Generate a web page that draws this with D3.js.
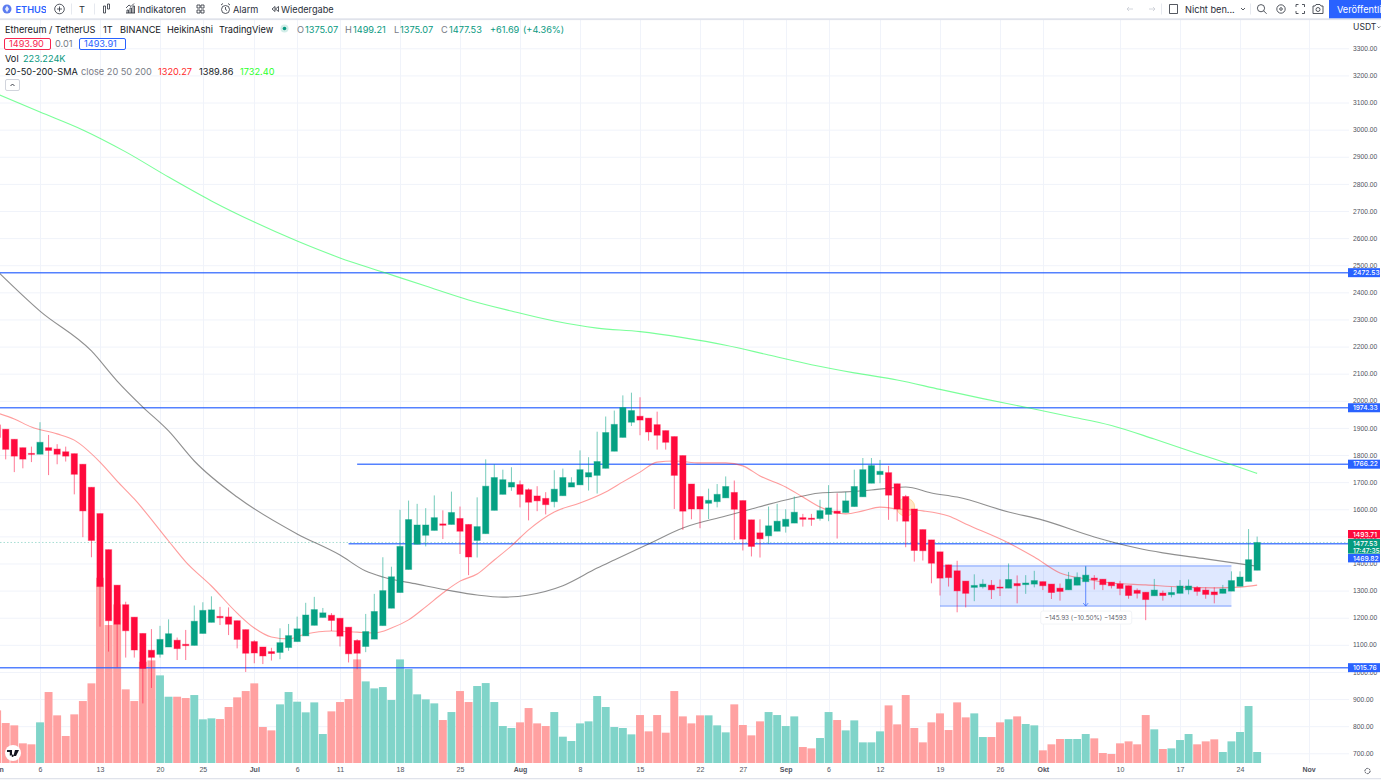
<!DOCTYPE html>
<html><head><meta charset="utf-8">
<script src="https://cdn.jsdelivr.net/npm/d3@7/dist/d3.min.js"></script>
<style>
html,body{margin:0;padding:0;background:#fff;overflow:hidden}
svg{display:block;font-family:Inter,"Noto Sans",sans-serif}
.yax text{font-size:6.7px;font-weight:500;fill:#50535e}
.xax text{font-size:7px;font-weight:500;fill:#50535e}
</style></head><body><svg id="c" width="1381" height="781"></svg>
<script>
const startDate = "2022-06-01";
const opens = [
1911,1895,1858,1827,1806,1803,1827,1822,1812,1805,1766,1681,1584,1451,1320,1248,1202,1142,1080,1065,1092,1117,1102,1098,1142,1183,1205,1203,1189,1156,
1112,1092,1075,1072,1090,1112,1133,1172,1201,1209,1198,1165,1116,1094,1121,1171,1235,1293,1378,1471,1504,1522,1546,1544,1566,1544,1485,1510,1596,1655,1682,
1691,1672,1649,1640,1628,1650,1682,1690,1719,1725,1751,1814,1865,1921,1943,1936,1912,1890,1868,1798,1693,1647,1622,1628,1642,1662,1632,1561,1513,1502,1519,
1537,1549,1569,1567,1566,1581,1593,1588,1610,1646,1696,1728,1735,1694,1647,1601,1525,1487,1443,1395,1373,1335,1312,1314,1320,1313,1309,1326,1322,1324,
1333,1324,1309,1303,1320,1333,1346,1342,1331,1325,1318,1301,1294,1281,1291,1285,1290,1303,1311,1302,1295,1290,1298,1316,1334,1375.07];
const highs = [
1920,1895,1858,1827,1831,1921,1874,1840,1831,1805,1766,1681,1584,1451,1320,1259,1202,1142,1158,1170,1194,1127,1155,1245,1257,1279,1240,1238,1189,1156,
1117,1092,1089,1161,1177,1204,1255,1277,1236,1217,1198,1165,1121,1214,1288,1423,1388,1598,1632,1620,1604,1651,1596,1665,1610,1544,1644,1784,1766,1746,1755,
1706,1677,1685,1663,1744,1750,1718,1817,1792,1886,1942,1964,2020,2030,2013,1936,1960,1890,1868,1798,1693,1647,1676,1693,1721,1706,1632,1561,1563,1610,1620,
1600,1647,1583,1583,1635,1689,1659,1664,1746,1789,1789,1782,1760,1694,1653,1601,1525,1487,1443,1395,1410,1335,1360,1342,1339,1341,1400,1356,1357,1373,
1333,1324,1326,1369,1367,1388,1357,1342,1331,1336,1318,1308,1294,1343,1300,1314,1339,1341,1317,1312,1312,1321,1371,1371,1527,1499.21];
const lows = [
1840,1784,1737,1751,1774,1803,1726,1766,1776,1655,1497,1423,1167,1075,1017,1053,1053,884,941,1053,1092,1044,1044,1098,1142,1183,1173,1136,1087,1000,
1032,1029,1042,1047,1078,1112,1133,1172,1201,1151,1094,1035,1010,1073,1121,1171,1235,1293,1378,1471,1463,1522,1490,1544,1435,1357,1422,1510,1596,1655,1668,
1607,1559,1593,1581,1607,1650,1682,1690,1669,1658,1751,1814,1865,1907,1873,1853,1820,1820,1601,1524,1563,1530,1564,1607,1642,1487,1448,1426,1422,1472,1519,
1514,1549,1536,1539,1558,1556,1492,1588,1610,1646,1696,1696,1561,1555,1460,1407,1411,1327,1282,1315,1220,1238,1261,1308,1269,1280,1309,1253,1288,1312,
1302,1269,1263,1303,1320,1333,1304,1302,1308,1283,1270,1271,1191,1281,1263,1275,1290,1286,1281,1270,1253,1290,1298,1316,1334,1375.07];
const closes = [
1865,1821,1796,1785,1803,1847,1817,1803,1796,1729,1594,1485,1315,1189,1176,1152,1081,1013,1054,1120,1141,1086,1097,1187,1227,1229,1200,1176,1120,1069,
1070,1059,1068,1108,1134,1159,1210,1230,1218,1190,1132,1067,1069,1149,1223,1300,1351,1463,1562,1542,1542,1569,1541,1588,1519,1424,1536,1685,1717,1709,1699,
1655,1626,1631,1617,1674,1717,1698,1746,1735,1776,1883,1913,1975,1964,1929,1885,1873,1847,1725,1593,1601,1601,1633,1655,1684,1600,1490,1463,1491,1539,1556,
1563,1589,1563,1563,1595,1605,1585,1631,1684,1746,1761,1740,1652,1601,1556,1448,1447,1401,1346,1348,1299,1290,1319,1324,1303,1310,1341,1318,1328,1337,
1318,1293,1297,1342,1349,1357,1340,1322,1318,1308,1282,1290,1267,1302,1282,1293,1317,1317,1297,1286,1285,1306,1337,1350,1414,1477.53];
const volumesK = [
1068,811,764,399,379,825,1440,967,548,987,1257,1616,3759,2799,3218,1494,1257,2055,2082,1778,1345,1345,1318,1379,886,906,892,1136,1332,1460,
1616,730,662,1190,1440,1244,1028,1230,588,1048,1237,1298,2102,1656,1514,1541,1278,2102,1906,1393,1291,1210,872,1034,1460,1237,1562,1622,1237,750,710,
825,1115,804,750,1034,534,446,804,845,1359,1136,730,710,581,973,642,973,615,1460,946,804,967,967,764,622,1190,771,561,845,1034,973,
750,946,324,297,507,1034,872,662,865,419,419,642,1169,784,1379,710,419,825,1007,669,1230,926,1007,527,527,825,886,946,791,764,
257,379,487,487,487,588,500,203,183,399,439,379,973,683,284,297,466,588,379,439,480,223,439,629,1156,223.224];

const sma20Days = [0,2,4,7,9,12,14,16,20,22,25,28,30,32,34,36,39,42,44,46,48,50,52,54,56,58,60,62,65,68,71,73,75,77,79,82,85,87,89,92,94,96,99,101,103,105,108,111,113,118,121,124,127,130,134,138,142,145,147];
const sma20 = [1955,1933,1903,1878,1855,1774,1704,1638,1483,1406,1317,1217,1162,1129,1122,1140,1151,1147,1144,1162,1192,1240,1291,1335,1361,1413,1465,1524,1590,1623,1664,1701,1737,1774,1778,1771,1771,1760,1723,1682,1645,1608,1583,1594,1608,1601,1594,1575,1546,1476,1424,1365,1343,1328,1321,1313,1310,1313,1320.27];
const sma50Days = [0,5,11,14,17,20,23,28,35,40,43,45,49,53,56,59,62,66,70,72,76,80,85,88,92,96,99,102,104,106,109,112,118,122,128,133,136,141,147];
const sma50 = [2479,2331,2184,2073,1977,1889,1778,1645,1509,1431,1372,1350,1324,1299,1284,1276,1284,1318,1383,1413,1472,1531,1575,1601,1634,1660,1664,1671,1678,1682,1660,1645,1590,1560,1498,1457,1439,1417,1389.86];
const sma200Days = [0,5,10,15,20,25,30,35,40,45,50,55,60,65,70,75,80,85,90,95,100,105,110,115,120,125,130,135,140,145,147];
const sma200 = [3132,3065,2999,2918,2825,2737,2659,2589,2527,2475,2423,2372,2331,2294,2268,2255,2233,2205,2169,2133,2103,2077,2042,2008,1976,1943,1909,1859,1806,1754,1732.4];

const priceTicks = [700,800,900,1000,1100,1200,1300,1400,1500,1600,1700,1800,1900,2000,2100,2200,2300,2400,2500,2600,2700,2800,2900,3000,3100,3200,3300];
const timeTickDates = ["2022-06-01","2022-06-06","2022-06-13","2022-06-20","2022-06-25","2022-07-01","2022-07-06","2022-07-11","2022-07-18","2022-07-25","2022-08-01","2022-08-08","2022-08-15","2022-08-22","2022-08-27","2022-09-01","2022-09-06","2022-09-12","2022-09-19","2022-09-26","2022-10-01","2022-10-10","2022-10-17","2022-10-24","2022-11-01"];
const monthNames = {5:"Jun",6:"Jul",7:"Aug",8:"Sep",9:"Okt",10:"Nov"};
const lineLevels = [
 {p:2472.53, from:"2022-05-01"},
 {p:1974.33, from:"2022-05-01"},
 {p:1766.22, from:"2022-07-13"},
 {p:1473,    from:"2022-07-12"},
 {p:1015.76, from:"2022-05-01"}];
const boxTop = 1391, boxBottom = 1243, boxFrom = "2022-09-19", boxTo = "2022-10-23", arrowDate = "2022-10-06";
const lastPrice = 1477.53;

const W = 1381, H = 781, axisX = 1349, plotTop = 20, plotBottom = 763;
const parse = d3.utcParse("%Y-%m-%d");
const svg = d3.select("#c");
const x = d3.scaleUtc().domain([parse("2022-06-06"),parse("2022-10-24")]).range([40,1240]);
const y = d3.scaleLinear().domain([700,3300]).range([753.3,48.3]);
const vol = d3.scaleLinear().domain([0,3760]).range([plotBottom,plotBottom-185.3]);
const t0 = parse(startDate);
const dayOf = i => d3.utcDay.offset(t0,i);
const up = "#05a183", dn = "#ff0a3c", blue = "#2962ff";

svg.append("defs").append("clipPath").attr("id","plot").append("rect")
  .attr("x",0).attr("y",plotTop).attr("width",axisX).attr("height",plotBottom-plotTop);
svg.append("rect").attr("width",W).attr("height",H).attr("fill","#fff");

const plot = svg.append("g").attr("clip-path","url(#plot)");
// grid
plot.append("g").selectAll("line").data(priceTicks).join("line")
  .attr("x1",0).attr("x2",axisX).attr("y1",d=>y(d)+.5).attr("y2",d=>y(d)+.5).attr("stroke","#f0f3fa");
plot.append("g").selectAll("line").data(timeTickDates).join("line")
  .attr("x1",d=>Math.round(x(parse(d)))+.5).attr("x2",d=>Math.round(x(parse(d)))+.5).attr("y1",plotTop).attr("y2",plotBottom).attr("stroke","#f0f3fa");

// volume
plot.append("g").selectAll("rect").data(volumesK).join("rect")
  .attr("x",(d,i)=>x(dayOf(i))-3.95).attr("width",7.9)
  .attr("y",d=>vol(d)).attr("height",d=>plotBottom-vol(d))
  .attr("fill",(d,i)=>closes[i]>=opens[i]?"#80d4c9":"#ffa1a1");

// box drawing
const bx0 = x(parse(boxFrom)), bx1 = x(parse(boxTo));
plot.append("rect").attr("x",bx0).attr("width",bx1-bx0).attr("y",y(boxTop)).attr("height",y(boxBottom)-y(boxTop)).attr("fill",blue).attr("fill-opacity",.15);
plot.selectAll("line.bx").data([boxTop,boxBottom]).join("line").attr("class","bx")
  .attr("x1",bx0).attr("x2",bx1).attr("y1",d=>y(d)).attr("y2",d=>y(d)).attr("stroke",blue).attr("stroke-opacity",.6).attr("stroke-width",1);
const ax = x(parse(arrowDate));
plot.append("line").attr("x1",ax).attr("x2",ax).attr("y1",y(boxTop)).attr("y2",y(boxBottom)).attr("stroke",blue).attr("stroke-opacity",.7);
plot.append("path").attr("d",`M${ax-2.5},${y(boxBottom)-3}L${ax},${y(boxBottom)}L${ax+2.5},${y(boxBottom)-3}`).attr("fill","none").attr("stroke",blue).attr("stroke-opacity",.7);

// dashed last price
plot.append("line").attr("x1",0).attr("x2",axisX).attr("y1",y(lastPrice)).attr("y2",y(lastPrice)).attr("stroke",up).attr("stroke-opacity",.35).attr("stroke-dasharray","1.5 2");

// level lines
plot.append("g").selectAll("line").data(lineLevels).join("line")
  .attr("x1",d=>x(parse(d.from))).attr("x2",axisX).attr("y1",d=>y(d.p)).attr("y2",d=>y(d.p))
  .attr("stroke",blue).attr("stroke-width",1.5).attr("stroke-opacity",.8);

// circle highlight
plot.append("circle").attr("cx",x(parse("2022-09-15"))).attr("cy",y(1608)).attr("r",9)
  .attr("fill","#ff9800").attr("fill-opacity",.22).attr("stroke","#ff9800").attr("stroke-opacity",.3);

// SMAs
function drawLine(days,vals,col,op){
  const l = d3.line().x((d,i)=>x(dayOf(days[i]))).y(d=>y(d)).curve(d3.curveMonotoneX);
  plot.append("path").attr("d",l(vals)).attr("fill","none").attr("stroke",col).attr("stroke-opacity",op).attr("stroke-width",1.1);
}
drawLine(sma200Days,sma200,"#22ff55",.6);
drawLine(sma50Days,sma50,"#333",.55);
drawLine(sma20Days,sma20,"#ff3b3b",.5);

// candles
const cg = plot.append("g");
cg.selectAll("line").data(opens).join("line")
  .attr("x1",(d,i)=>x(dayOf(i))).attr("x2",(d,i)=>x(dayOf(i)))
  .attr("y1",(d,i)=>y(highs[i])).attr("y2",(d,i)=>y(lows[i]))
  .attr("stroke",(d,i)=>closes[i]>=opens[i]?up:dn).attr("stroke-opacity",.55).attr("stroke-width",1);
cg.selectAll("rect").data(opens).join("rect")
  .attr("x",(d,i)=>x(dayOf(i))-3.1).attr("width",6.2)
  .attr("y",(d,i)=>y(Math.max(d,closes[i])))
  .attr("height",(d,i)=>Math.max(1,Math.abs(y(d)-y(closes[i]))))
  .attr("fill",(d,i)=>closes[i]>=d?up:dn)
  .attr("stroke",(d,i)=>closes[i]>=d?up:dn).attr("stroke-opacity",.4).attr("stroke-width",1);

// measurement label
const mx = x(parse("2022-10-06"));
svg.append("rect").attr("x",mx-45).attr("y",y(1243)+5).attr("width",91).attr("height",13).attr("rx",2).attr("fill","#fff").attr("stroke","#eef0f4").attr("stroke-width",.8);
svg.append("text").attr("x",mx).attr("y",y(1243)+13.8).attr("text-anchor","middle").attr("font-size",6.4).attr("fill","#5d606b").text("\u2212145.93 (\u221210.50%) \u221214593");

// axes
const yAxis = d3.axisRight(y).tickValues(priceTicks).tickSize(0).tickPadding(4).tickFormat(d3.format(".2f"));
svg.append("g").attr("class","yax").attr("transform",`translate(${axisX},0)`).call(yAxis).call(g=>g.select(".domain").remove());
const xAxis = d3.axisBottom(x).tickValues(timeTickDates.map(parse)).tickSize(0).tickPadding(4)
  .tickFormat(d=>d.getUTCDate()===1?monthNames[d.getUTCMonth()]:String(d.getUTCDate()));
svg.append("g").attr("class","xax").attr("transform",`translate(0,${plotBottom})`).call(xAxis)
  .call(g=>g.select(".domain").remove())
  .call(g=>g.selectAll("text").style("font-weight",d=>d.getUTCDate()===1?700:500));

// tags
function tag(py,h,col,lines){
  svg.append("rect").attr("x",axisX-1).attr("y",py).attr("width",32).attr("height",h).attr("fill",col);
  lines.forEach((t,i)=>svg.append("text").attr("x",1353).attr("y",py+6.6+i*7).attr("font-size",6.7).attr("font-weight",500).attr("fill","#fff").text(t));
}
tag(y(2472.53)-4.5,9,blue,["2472.53"]);
tag(y(1974.33)-4.5,9,blue,["1974.33"]);
tag(y(1766.22)-4.5,9,blue,["1766.22"]);
tag(530,8.4,dn,["1493.71"]);
tag(539,14.6,"#059b7f",["1477.53","17:47:35"]);
tag(554,8.4,blue,["1469.82"]);
tag(y(1015.76)-4.5,9,blue,["1015.76"]);

// bottom / top chrome
svg.append("rect").attr("x",0).attr("y",778).attr("width",W).attr("height",1.3).attr("fill","#e0e3eb");
svg.append("rect").attr("x",0).attr("y",0).attr("width",W).attr("height",18.3).attr("fill","#fff");
svg.append("rect").attr("x",0).attr("y",18.3).attr("width",W).attr("height",1.8).attr("fill","#e0e3eb");

function T(xp,yp,s,o={}){
  return svg.append("text").attr("x",xp).attr("y",yp).attr("font-size",o.size||9.2).attr("font-weight",o.w||400)
    .attr("fill",o.c||"#131722").attr("text-anchor",o.a||"start").text(s);
}
// TV logo
svg.append("circle").attr("cx",13).attr("cy",753).attr("r",8).attr("fill","#fff");
svg.append("path").attr("d","M7,750h5v5.5h-2.2v-3.5H7zM12.6,754.5a1.2,1.2 0 1 0 0.01,0zM15,750h4l-3,6h-2.6z").attr("fill","#131722");
// gear
svg.append("circle").attr("cx",1367.5).attr("cy",771).attr("r",2.6).attr("fill","none").attr("stroke","#50535e").attr("stroke-width",1).attr("stroke-dasharray","2 .6");

// legend
const g1="#787b86", teal="#089981";
const r1=32.6;
T(5,r1,"Ethereum / TetherUS");T(103,r1,"1T");T(120,r1,"BINANCE");T(167,r1,"HeikinAshi");T(219,r1,"TradingView");
svg.append("circle").attr("cx",284.5).attr("cy",28.5).attr("r",4).attr("fill",teal).attr("fill-opacity",.18);
svg.append("circle").attr("cx",284.5).attr("cy",28.5).attr("r",1.8).attr("fill",teal);
T(297,r1,"O",{c:g1});T(305,r1,"1375.07",{c:teal});T(345,r1,"H",{c:g1});T(353,r1,"1499.21",{c:teal});
T(394,r1,"L",{c:g1});T(400,r1,"1375.07",{c:teal});T(441,r1,"C",{c:g1});T(449,r1,"1477.53",{c:teal});
T(490,r1,"+61.69",{c:teal});T(523,r1,"(+4.36%)",{c:teal});
svg.append("rect").attr("x",4.5).attr("y",38.5).attr("width",46).attr("height",11).attr("rx",1.5).attr("fill","#fff").attr("stroke","#f7264f");
T(9,47.4,"1493.90",{c:"#f7264f"});T(55,47.4,"0.01",{c:g1});
svg.append("rect").attr("x",79.5).attr("y",38.5).attr("width",46).attr("height",11).attr("rx",1.5).attr("fill","#fff").attr("stroke",blue);
T(84,47.4,"1493.91",{c:blue});
T(5,61.5,"Vol");T(23,61.5,"223.224K",{c:teal});
T(5,74.5,"20-50-200-SMA");T(81,74.5,"close 20 50 200",{c:g1});T(158,74.5,"1320.27",{c:"#ff2a2a"});T(199,74.5,"1389.86");T(240,74.5,"1732.40",{c:"#2bff2b"});
svg.append("rect").attr("x",5.5).attr("y",79.5).attr("width",14).attr("height",11).attr("rx",1.5).attr("fill","#fff").attr("stroke","#d1d4dc");
svg.append("path").attr("d","M10.5,86l2-2l2,2").attr("fill","none").attr("stroke","#131722").attr("stroke-width",.8);

// USDT
T(1353,30,"USDT",{size:8.6,c:"#2a2e39"});
svg.append("path").attr("d","M1377.5,26.5l1.3,1.3l1.3,-1.3").attr("fill","none").attr("stroke","#2a2e39").attr("stroke-width",.7);

// toolbar
const ic="#2a2e39";
function P(d,c=ic){svg.append("path").attr("d",d).attr("fill","none").attr("stroke",c).attr("stroke-width",.8);}
function C(cx,cy,r,c=ic){svg.append("circle").attr("cx",cx).attr("cy",cy).attr("r",r).attr("fill","none").attr("stroke",c).attr("stroke-width",.8);}
svg.append("circle").attr("cx",7).attr("cy",9).attr("r",4.5).attr("fill","#5b7cf0");
svg.append("path").attr("d","M7,5.7L9,9L7,12.3L5,9z").attr("fill","#fff").attr("fill-opacity",.85);
svg.append("clipPath").attr("id","sym").append("rect").attr("x",0).attr("y",0).attr("width",46).attr("height",18);
svg.append("g").attr("clip-path","url(#sym)").append("text").attr("x",15.5).attr("y",12.8).attr("font-size",9.2).attr("font-weight",600).attr("fill",blue).text("ETHUSDT");
C(59.5,9,4.8);P("M57,9h5M59.5,6.5v5");
P("M71.5,3.5v11","#e0e3eb");T(82,12.8,"T",{size:9.2,w:400,c:ic,a:"middle"});P("M94.5,3.5v11","#e0e3eb");
P("M103.5,6v7h2v-7zM107.5,4v5h2v-5z");
P("M126,13h9M127,13v-3h1.5v3M130,13v-5h1.5v5M133,13v-7h1.5v7M126,8l3,-3l2,1.5l3,-3");T(137.5,12.8,"Indikatoren",{c:ic});
P("M197,5h3v3h-3zM201,5h3v3h-3zM197,10h3v3h-3zM201,10h3v3h-3z");
C(225.5,9.5,4);P("M225.5,7v2.5l1.5,1M221,5l2,-1.5M230,5l-2,-1.5");T(233,12.8,"Alarm",{c:ic});
P("M272,9l3,-2.5v5zM275.5,9l3,-2.5v5z");T(281,12.8,"Wiedergabe",{c:ic});
P("M1127,9h6M1127,9l2,-2M1127,9l2,2","#c8cbd3");P("M1155,9h-6M1155,9l-2,-2M1155,9l-2,2","#c8cbd3");
P("M1161.5,3.5v11","#e0e3eb");P("M1169.5,4.5h8v9h-8z");
T(1185,12.8,"Nicht ben...",{c:ic});P("M1241,8l2,2l2,-2");P("M1250.5,3.5v11","#e0e3eb");
C(1261,8.2,3.6);P("M1263.6,10.8l3,3");C(1281,9,4.2);C(1281,9,1.3);
P("M1296,7v-2.5h2.5M1302,4.5h2.5v2.5M1304.5,11v2.5h-2.5M1298.5,13.5h-2.5v-2.5");
P("M1313,6h2l1,-1.5h4l1,1.5h2v7.5h-10z");C(1318,9.5,2);
svg.append("rect").attr("x",1329).attr("y",0).attr("width",52).attr("height",18.3).attr("fill",blue);
svg.append("clipPath").attr("id","pub").append("rect").attr("x",1329).attr("y",0).attr("width",52).attr("height",18);
svg.append("g").attr("clip-path","url(#pub)").append("text").attr("x",1337).attr("y",12.8).attr("font-size",9.2).attr("fill","#fff").text("Veröffentlichen");
</script></body></html>
